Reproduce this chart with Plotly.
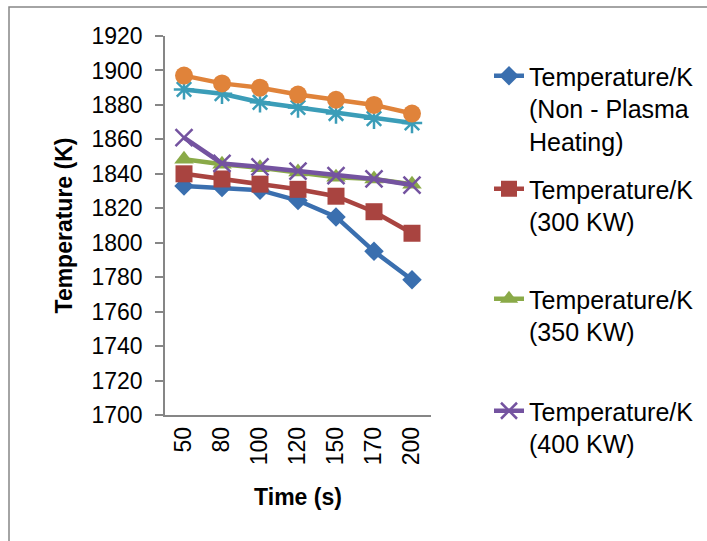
import plotly.graph_objects as go

time_s = ["50", "80", "100", "120", "150", "170", "200"]
non_plasma = [1833, 1832, 1830.5, 1824.5, 1815, 1795, 1778.5]
kw300 = [1840, 1837, 1834, 1831, 1827, 1818, 1805.5]
kw350 = [1848.5, 1845.5, 1843.5, 1841, 1838, 1837, 1834]
kw400 = [1861, 1846, 1844, 1841.5, 1839, 1837, 1833.5]
series5 = [1889, 1886.5, 1881.5, 1878.5, 1875, 1872, 1869.5]
series6 = [1897, 1892.5, 1890, 1886, 1883, 1880, 1875]

names = ["Temperature/K<br>(Non - Plasma<br>Heating)",
         "Temperature/K<br>(300 KW)",
         "Temperature/K<br>(350 KW)",
         "Temperature/K<br>(400 KW)"]

FONT = "Liberation Sans"
W, H = 707, 541
L, R, T, B = 165, 276, 36, 126
pw, ph = W - L - R, H - T - B

fig = go.Figure()
specs = [
    (non_plasma, names[0], "#3A6FAF", dict(symbol="diamond", size=15), "legend"),
    (kw300, names[1], "#A94440", dict(symbol="square", size=17), "legend2"),
    (kw350, names[2], "#8AAA48", dict(symbol="triangle-up", size=17), "legend3"),
    (kw400, names[3], "#7453A0", dict(symbol="x-thin", size=17), "legend4"),
    (series5, "Series 5", "#3B9DB8", dict(symbol="asterisk", size=17), None),
    (series6, "Series 6", "#E0833A", dict(symbol="circle", size=18), None),
]
for vals, name, col, mk, lg in specs:
    m = dict(color=col, **mk)
    if mk["symbol"] in ("x-thin", "asterisk"):
        m["line"] = dict(color=col, width=2.5)
    kw = dict(legend=lg) if lg else dict(showlegend=False)
    fig.add_trace(go.Scatter(
        x=time_s, y=vals, name=name, mode="lines+markers",
        line=dict(color=col, width=4.5), marker=m, **kw))

axis_col = "#868686"


def leg(top_px):
    return dict(x=(489 - L) / pw, xanchor="left", y=(H - B - top_px) / ph, yanchor="top",
                font=dict(size=25, family=FONT), valign="top",
                bgcolor="rgba(0,0,0,0)", itemwidth=30)


fig.update_layout(
    width=W, height=H,
    margin=dict(l=L, r=R, t=T, b=B, autoexpand=False),
    paper_bgcolor="white", plot_bgcolor="white",
    font=dict(family=FONT, size=23, color="black"),
    xaxis=dict(type="category", range=[-0.5, 6.5], showgrid=False,
               showline=True, linecolor=axis_col, linewidth=1.5,
               ticks="outside", ticklen=1, tickcolor="rgba(0,0,0,0)",
               tickangle=-90, tickfont=dict(size=23),
               title=dict(text="<b>Time (s)</b>", font=dict(size=23), standoff=25),
               automargin=False, zeroline=False),
    yaxis=dict(range=[1700, 1920], dtick=20, showgrid=False,
               showline=True, linecolor=axis_col, linewidth=1.5,
               ticks="outside", ticklen=8, tickcolor=axis_col, tickwidth=1.5,
               ticklabelstandoff=8, tickfont=dict(size=23),
               title=dict(text="<b>Temperature (K)</b>", font=dict(size=23), standoff=12),
               automargin=False, zeroline=False),
    legend=leg(53), legend2=leg(166), legend3=leg(276), legend4=leg(388),
    shapes=[dict(type="rect", xref="paper", yref="paper",
                 x0=(9 - L) / pw, x1=(740 - L) / pw,
                 y0=(H - B - 580) / ph, y1=(H - B - 7) / ph,
                 line=dict(color=axis_col, width=1.5), fillcolor="rgba(0,0,0,0)",
                 layer="below")],
)
fig.write_html("out.html")
